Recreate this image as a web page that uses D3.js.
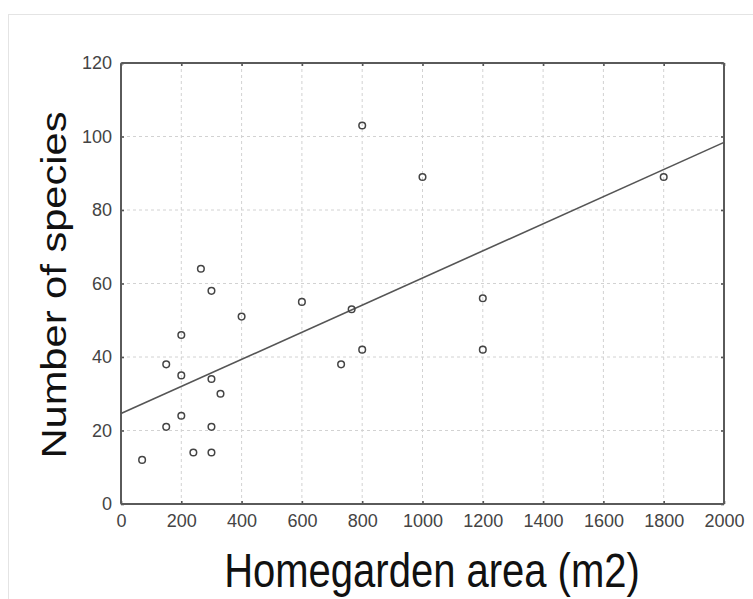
<!DOCTYPE html>
<html>
<head>
<meta charset="utf-8">
<script src="https://cdn.jsdelivr.net/npm/d3@7/dist/d3.min.js"></script>
<style>
  html,body{margin:0;padding:0;background:#fff;}
  svg{display:block;font-family:"Liberation Sans",Arial,sans-serif;}
</style>
</head>
<body>
<svg id="chart" width="753" height="599"></svg>
<script>
// homegarden area (m2) vs number of species
const areas   = [70,150,150,200,200,200,240,265,300,300,300,300,330,400,600,730,765,800,800,1000,1200,1200,1800];
const species = [12,38,21,46,35,24,14,64,58,34,21,14,30,51,55,38,53,42,103,89,56,42,89];
// fitted line, values at both ends of the x range
const fitX = [0,2000];
const fitY = [24.6,98.4];
const xTicks = [0,200,400,600,800,1000,1200,1400,1600,1800,2000];
const yTicks = [0,20,40,60,80,100,120];
const xTitle = "Homegarden area (m2)";
const yTitle = "Number of species";

(function(){
  const svg = d3.select("#chart");
  const L=121, R=724, T=63, B=504;
  const x = d3.scaleLinear().domain([0,2000]).range([L,R]);
  const y = d3.scaleLinear().domain([0,120]).range([B,T]);
  const fmt = d3.format("d");

  // faint outer border of the figure
  svg.append("rect").attr("x",8.5).attr("y",14.5).attr("width",760).attr("height",600)
    .attr("fill","none").attr("stroke","#e4e4e4").attr("stroke-width",1);

  // dashed grid
  const grid = svg.append("g").attr("stroke","#d2d2d2").attr("stroke-width",1).attr("stroke-dasharray","3,3");
  grid.selectAll("line.v").data(xTicks.slice(1,-1)).enter().append("line")
    .attr("x1",d=>x(d)).attr("x2",d=>x(d)).attr("y1",T).attr("y2",B);
  grid.selectAll("line.h").data(yTicks.slice(1,-1)).enter().append("line")
    .attr("x1",L).attr("x2",R).attr("y1",d=>y(d)).attr("y2",d=>y(d));

  // axes: inward ticks on all four sides, labels only left/bottom
  const tk = 3;
  const gB = svg.append("g").attr("transform","translate(0,"+B+")")
    .call(d3.axisBottom(x).tickValues(xTicks).tickFormat(fmt).tickSize(-tk).tickPadding(10));
  const gT = svg.append("g").attr("transform","translate(0,"+T+")")
    .call(d3.axisTop(x).tickValues(xTicks).tickSize(-tk).tickFormat(""));
  const gL = svg.append("g").attr("transform","translate("+L+",0)")
    .call(d3.axisLeft(y).tickValues(yTicks).tickFormat(fmt).tickSize(-tk).tickPadding(9));
  const gR = svg.append("g").attr("transform","translate("+R+",0)")
    .call(d3.axisRight(y).tickValues(yTicks).tickSize(-tk).tickFormat(""));
  [gB,gT,gL,gR].forEach(g=>{
    g.select(".domain").remove();
    g.selectAll(".tick line").attr("stroke","#555").attr("stroke-width",1.6);
    g.selectAll(".tick text").attr("fill","#444").attr("font-size",18)
      .attr("font-family","'Liberation Sans',Arial,sans-serif");
  });

  // plot frame
  svg.append("rect").attr("x",L).attr("y",T).attr("width",R-L).attr("height",B-T)
    .attr("fill","none").attr("stroke","#5a5a5a").attr("stroke-width",2).attr("rx",1.5);

  // regression line
  svg.append("line")
    .attr("x1",x(fitX[0])).attr("y1",y(fitY[0])).attr("x2",x(fitX[1])).attr("y2",y(fitY[1]))
    .attr("stroke","#555").attr("stroke-width",1.6);

  // points
  svg.append("g").selectAll("circle").data(areas).enter().append("circle")
    .attr("cx",d=>x(d)).attr("cy",(d,i)=>y(species[i])).attr("r",3.3)
    .attr("fill","none").attr("stroke","#444").attr("stroke-width",1.5);

  // axis titles (source picture is stretched vertically)
  svg.append("text").attr("transform","translate(432,587) scale(1,1.19)")
    .attr("text-anchor","middle").attr("font-size",40).attr("fill","#111").text(xTitle);
  svg.append("text").attr("transform","translate(66,285) scale(1,1.19) rotate(-90)")
    .attr("text-anchor","middle").attr("font-size",35).attr("fill","#111").text(yTitle);
})();
</script>
</body>
</html>
